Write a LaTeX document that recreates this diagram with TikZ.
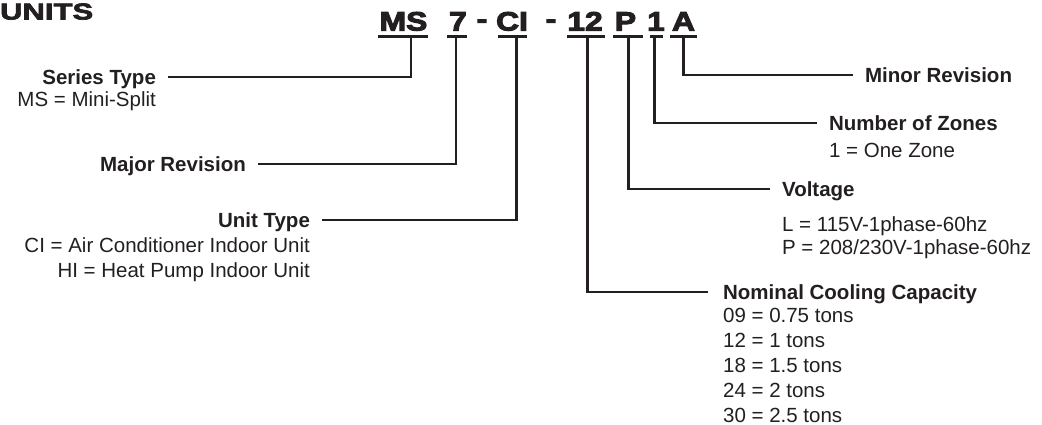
\documentclass[tikz,border=0pt]{standalone}
\usepackage{fontspec}
\setmainfont{Liberation Sans}
\newfontfamily\codefont[FakeStretch=1.2,FakeBold=4]{Liberation Sans}
\newfontfamily\unitsfont[FakeStretch=1.35,FakeBold=3]{Liberation Sans}
\usepackage{tikz}
\usetikzlibrary{positioning, calc}
\definecolor{inkBlack}{RGB}{35,31,32}

\begin{document}
\begin{tikzpicture}[x=1pt, y=-1pt, line width=2.2pt, inkBlack,
    head/.style={font=\fontsize{20.5}{25}\selectfont\bfseries, text height=15pt, text depth=0pt, inner xsep=11pt, inner ysep=0pt},
    desc/.style={font=\fontsize{20.5}{25}\selectfont, inner sep=0pt},
    code/.style={font={\codefont\fontsize{26.5}{28}\selectfont\bfseries}, inner sep=0pt, anchor=base},
    under/.style={line width=2.6pt}]
    \useasboundingbox (0,0) rectangle (1042,425);

    % Title
    \node[anchor=base west, inner sep=0pt, font={\unitsfont\fontsize{23}{24}\selectfont\bfseries}] (units) at (-1,19.5) {UNITS};

    % Model number
    \node[code] (mMS) at (403.5,30.5) {MS};
    \node[code] (m7) at (458,30.5) {7};
    \node[code] (mDashA) at (482,28) {-};
    \node[code] (mCI) at (512,30.5) {CI};
    \node[code] (mDashB) at (551,28) {-};
    \node[code] (m12) at (585,30.5) {12};
    \node[code] (mP) at (625.5,30.5) {P};
    \node[code] (m1) at (656,30.5) {1};
    \node[code] (mA) at (683.5,30.5) {A};

    % Underlines
    \foreach \name/\l/\r/\s in {MS/378/428/411, 7/447/467/456, CI/498/527/516.5, 12/567/605/587.5, P/613/643/628.5, 1/650/663/654.5, A/670/697/683.5} {
        \draw[under] (\l,36.5) -- (\r,36.5);
        \coordinate (s\name) at (\s,36.5);
    }

    % Left side
    \node[head, anchor=east] (series) at (168,77) {Series Type};
    \node[desc, anchor=base east] (seriesD) at ([xshift=-11pt, yshift=-22.5pt]series.base east) {MS = Mini-Split};
    \node[head, anchor=east] (major) at (258,164) {Major Revision};
    \node[head, anchor=east] (unit) at (322,220) {Unit Type};
    \node[desc, anchor=base east] (unitC) at ([xshift=-11pt, yshift=-25pt]unit.base east) {CI = Air Conditioner Indoor Unit};
    \node[desc, anchor=base east] (unitH) at ([yshift=-25pt]unitC.base east) {HI = Heat Pump Indoor Unit};

    % Right side
    \node[head, anchor=west] (minor) at (853,75) {Minor Revision};
    \node[head, anchor=west] (zones) at (817,123) {Number of Zones};
    \node[desc, anchor=base west] (zonesD) at ([xshift=11pt, yshift=-27pt]zones.base west) {1 = One Zone};
    \node[head, anchor=west] (voltage) at (770,189) {Voltage};
    \node[desc, anchor=base west] (voltL) at ([xshift=11pt, yshift=-35pt]voltage.base west) {L = 115V-1phase-60hz};
    \node[desc, anchor=base west] (voltP) at ([yshift=-23pt]voltL.base west) {P = 208/230V-1phase-60hz};
    \node[head, anchor=west, inner xsep=14pt] (nominal) at (708,292) {Nominal Cooling Capacity};
    \foreach \txt [count=\i] in {09 = 0.75 tons, 12 = 1 tons, 18 = 1.5 tons, 24 = 2 tons, 30 = 2.5 tons}
        \node[desc, anchor=base west] (tons\i) at ([xshift=14pt, yshift={-23pt-25pt*(\i-1)}]nominal.base west) {\txt};

    % Connectors
    \draw (sMS) |- (series.east);
    \draw (s7) |- (major.east);
    \draw (sCI) |- (unit.east);
    \draw (s12) |- (nominal.west);
    \draw (sP) |- (voltage.west);
    \draw (s1) |- (zones.west);
    \draw (sA) |- (minor.west);
\end{tikzpicture}
\end{document}
